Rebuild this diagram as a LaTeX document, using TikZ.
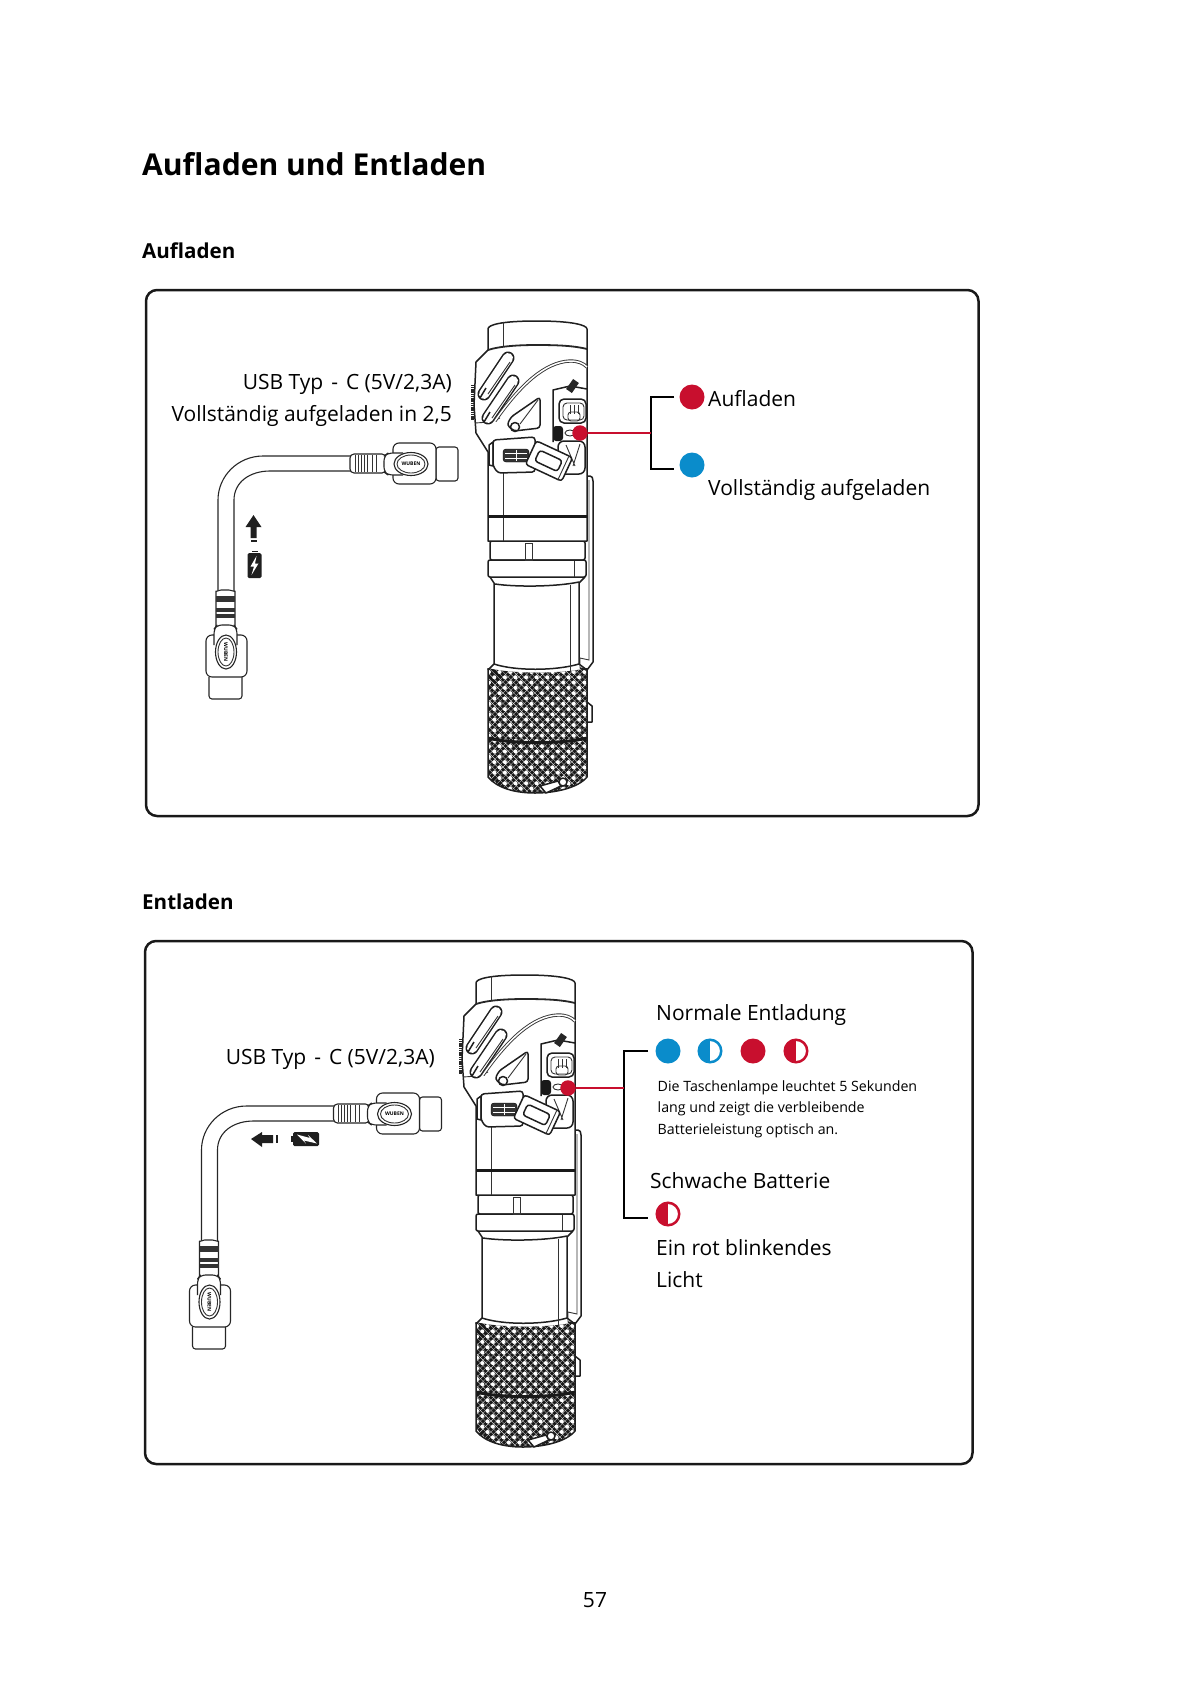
\documentclass[tikz,border=0pt]{standalone}
\usepackage{fontspec}
\setmainfont{Open Sans}
\usetikzlibrary{positioning, shapes.geometric}
\definecolor{ledred}{HTML}{C80F2E}
\definecolor{ledblue}{HTML}{0A8CCB}

\tikzset{
  lampline/.style = {line width = 1.5pt, black!88, line join = round},
  lampthin/.style = {line width = 0.9pt, black!80},
  cableline/.style = {line width = 1.1pt, black!85, line join = round},
  frame/.style = {line width = 2.5pt, rounded corners = 11pt, black!90},
  bracket/.style = {line width = 2.4pt, black},
  redline/.style = {line width = 2.4pt, ledred},
  txt/.style = {inner sep = 0pt, anchor = base west, font = \fontsize{21}{26}\selectfont},
  txtr/.style = {txt, anchor = base east},
  small/.style = {txt, font = \fontsize{14.2}{20}\selectfont},
  head/.style = {inner sep = 0pt, anchor = base west, font = \fontsize{20.6}{26}\selectfont\bfseries},
  led/.style = {circle, inner sep = 0pt, minimum size = 25pt, fill = #1},
  pointdot/.style = {led = ledred, minimum size = 15.5pt},
  halfled/.style = {circle, inner sep = 0pt, minimum size = 22.5pt, draw = #1, line width = 2.5pt, fill = white,
    path picture = {\fill[#1] (path picture bounding box.south west) rectangle (path picture bounding box.north);}},
  logo/.style = {inner sep = 0pt, font = \fontsize{5}{5}\selectfont\bfseries}
}

% the lamp, in the coordinates of the upper panel
\newcommand{\lampdraw}{
  % knurled foot
  \begin{scope}
    \clip (488,668) .. controls (510,674) and (565,674) .. (587,668) -- (587,777)
      .. controls (578,788) and (555,793) .. (535,793) .. controls (515,793) and (497,788) .. (488,777) -- cycle;
    \fill[black!90] (480,660) rectangle (595,800);
    \foreach \k in {0,...,56} {
      \draw[white, line width = 0.22pt] ({380+\k*2.65*2},660) -- ({520+\k*2.65*2},800);
      \draw[white, line width = 0.22pt] ({380+\k*2.65*2},800) -- ({520+\k*2.65*2},660);
    }
    \foreach \i in {0,...,9}
      \foreach \j in {0,...,25}
        \fill[white] ({489+\i*10.6+mod(\j,2)*5.3},{672+\j*5.3}) circle (2);
    \draw[line width = 3pt, black!90] (488,738) .. controls (510,744) and (565,744) .. (587,738);
  \end{scope}
  \draw[lampline] (488,668) -- (488,777) .. controls (497,788) and (515,793) .. (535,793)
    .. controls (555,793) and (578,788) .. (587,777) -- (587,668);
  \draw[lampline, fill = white] (540,786) -- (558,781) -- (561,786) -- (546,793) -- cycle;
  \draw[lampline, fill = white] (563,782) circle (4);
  \draw[lampline] (587,702) -- (592,706) -- (592,722) -- (587,722);
  % tube and rings
  \draw[lampline] (488,670) -- (494,664) -- (494,583) -- (490,577);
  \draw[lampline] (587,670) -- (579,664) -- (579,583) -- (585,577);
  \draw[lampline] (494,664) .. controls (515,671) and (555,671) .. (579,664);
  \draw[lampline] (495,584) .. controls (515,587) and (555,587) .. (579,582);
  \draw[lampthin] (570,585) -- (570,672);
  \draw[lampline, rounded corners = 2pt] (488,560) rectangle (586,577);
  \draw[lampthin] (574,560) -- (574,577);
  \draw[lampline, rounded corners = 2pt] (490,541) rectangle (585,560);
  \draw[lampthin] (525,543) rectangle (532,560);
  % pocket clip
  \draw[lampline] (587,476) -- (590,476) .. controls (592,476) and (593,478) .. (593,481) -- (593,662) -- (587,670) -- (580,668);
  \draw[lampthin] (589,480) -- (589,660) -- (580,658) -- (580,668);
  % head
  \draw[lampline, fill = white] (488,350) -- (488,329) .. controls (488,325) and (500,321) .. (537,321)
    .. controls (572,321) and (587,325) .. (587,329) -- (587,541) -- (488,541) -- (488,452)
    -- (476,433) -- (474,405) -- (476,362) -- cycle;
  \draw[line width = 1.8pt, black!85] (488,350) .. controls (500,346) and (520,345) .. (537,345) .. controls (560,345) and (575,346) .. (587,349);
  \draw[lampthin] (503,322) -- (503,346) (503,472) -- (503,541);
  \draw[lampthin] (475,423) -- (490,422) -- (500,418);
  \draw[line width = 3pt, black!90] (488,516) -- (587,516);
  \draw[line width = 3pt, black!85, dash pattern = on 1.2pt off 0.6pt] (472,385) -- (472,420);
  % grip ribs
  \draw[lampline, double = white, double distance = 10pt, line cap = round] (484,394) -- (508,358);
  \draw[lampline, double = white, double distance = 10pt, line cap = round] (488,418) -- (513,381);
  \draw[lampthin] (488,394) -- (510,362) (492,418) -- (515,385);
  \draw[lampline] (486,388) -- (480,398) (490,412) -- (484,422);
  \draw[lampthin, double = white, double distance = 1.5pt] (495,421) .. controls (520,385) and (545,362) .. (570,361) .. controls (578,361) and (583,363) .. (587,367);
  \draw[lampline, rounded corners = 3pt] (540,397) -- (540,428) -- (514,431) -- (507,425) -- (511,417) -- cycle;
  \draw[lampthin] (538,400) -- (520,424);
  \draw[lampline] (515,427) circle (4.5);
  % port cover
  \draw[lampline] (587,389) -- (570,386) -- (553,390) -- (553,442);
  \draw[line width = 7pt, black!85] (569,391) -- (576,381);
  \draw[lampline, rounded corners = 5pt, fill = white] (559,399) rectangle (586,423);
  \draw[lampthin, rounded corners = 4pt] (563,403) rectangle (584,420);
  \draw[lampthin] (574,405) -- (574,414) (570,405) -- (570,414) (578,405) -- (578,414);
  \draw[lampthin, rounded corners = 3pt] (568,412) rectangle (580,421);
  \fill[black!90, rounded corners = 3pt] (553,426) rectangle (563,441);
  \draw[lampthin] (570,433) ellipse (5 and 3);
  \draw[lampline, rounded corners = 6pt] (558,441) rectangle (585,474);
  \draw[lampthin] (566,445) -- (575,466) (580,444) -- (573,466);
  % side clip and rubber flap
  \draw[lampline, fill = white] (489,445) -- (493,442) -- (493,466) -- (489,465) -- cycle;
  \draw[lampline, rounded corners = 3pt, fill = white] (493,440) -- (535,437) -- (535,472) -- (498,473) -- (493,466) -- cycle;
  \draw[rounded corners = 3pt, fill = black!80] (503,449) rectangle (529,462);
  \draw[white, line width = 0.7pt] (505,453) -- (527,453) (505,458) -- (527,458) (516,450) -- (516,461);
  \begin{scope}[shift = {(549,461)}, rotate = -25]
    \draw[lampline, rounded corners = 3pt, fill = white] (-20,-13) rectangle (20,13);
    \draw[lampline, rounded corners = 3pt] (-13,-6) rectangle (12,6);
    \draw[lampthin] (16,-13) -- (16,13);
  \end{scope}
}

% the cable; #1 starts the names of its logo nodes
\newcommand{\cabledraw}[1]{
  \draw[cableline] (352,456) -- (263,456) .. controls (238,456) and (218,476) .. (218,500) -- (218,592);
  \draw[cableline] (352,471) -- (270,471) .. controls (250,471) and (234,482) .. (234,500) -- (234,592);
  \draw[cableline, rounded corners = 4pt, fill = white] (350,454) rectangle (386,473);
  \foreach \x in {355,358,361,364,367,372,376} \draw[lampthin] (\x,455) -- (\x,472);
  \draw[cableline, rounded corners = 3pt] (436,447) rectangle (458,481);
  \draw[cableline, rounded corners = 6pt, fill = white] (393,443) rectangle (436,484);
  \draw[cableline, rounded corners = 5pt, fill = white] (403,453) -- (388,453) -- (384,456) -- (384,472) -- (388,475) -- (403,475);
  \draw[cableline, fill = white] (411,464) ellipse (17 and 11.5);
  \draw[lampthin] (411,464) ellipse (14 and 9);
  \node[logo] (#1logoa) at (411,464) {WUBEN};
  \draw[cableline, rounded corners = 4pt, fill = white] (216,627) -- (216,595) .. controls (216,592) and (220,590) .. (225,590) .. controls (231,590) and (235,592) .. (235,595) -- (235,627);
  \foreach \y in {597,599,601,609,611,615,617} \draw[line width = 1.2pt, black!80] (216,\y) -- (235,\y);
  \draw[cableline, rounded corners = 3pt] (209,677) -- (209,699) -- (242,699) -- (242,677);
  \draw[cableline, rounded corners = 6pt, fill = white] (206,635) rectangle (247,677);
  \draw[cableline, rounded corners = 5pt, fill = white] (214,645) -- (214,629) -- (217,625) -- (234,625) -- (237,629) -- (237,645);
  \draw[cableline, fill = white] (226,652) ellipse (10.5 and 17);
  \draw[lampthin] (226,652) ellipse (8 and 14);
  \node[logo, rotate = -90] (#1logob) at (226,652) {WUBEN};
}

\begin{document}
\begin{tikzpicture}[x = 1pt, y = -1pt]
  \useasboundingbox (0,0) rectangle (1191,1684);

  \node[inner sep = 0pt, anchor = base west, font = \fontsize{30.1}{40}\selectfont\bfseries] (title) at (142,175.5) {Aufladen und Entladen};
  \node[head] (headA) at (142,258) {Aufladen};
  \node[head] (headB) at (142,909) {Entladen};
  \node[txt, anchor = base] (pageno) at (595,1607) {57};

  % upper panel
  \draw[frame] (146,290) rectangle (978.5,816);
  \lampdraw
  \cabledraw{a}
  \node[txtr] (usbA) at (452,389) {USB Typ\hspace{2.5pt} - \hspace{2.5pt}C (5V/2,3A)};
  \node[txtr] (timeA) at (452,421.5) {Vollständig aufgeladen in 2,5};
  \fill[black!88] (253.5,515) -- (261.5,527) -- (256.5,527) -- (256.5,538) -- (250.5,538) -- (250.5,527) -- (245.5,527) -- cycle;
  \fill[black!88] (250.5,540) rectangle (256.5,541.5);
  \fill[black!88, rounded corners = 1.5pt] (247.5,553) rectangle (261.5,578);
  \fill[black!88] (251.5,551) rectangle (257.5,552);
  \fill[white] (256.5,556) -- (250.5,566.5) -- (254,566.5) -- (251.5,575) -- (258.5,563.5) -- (255,563.5) -- cycle;

  \node[pointdot] (chargeDot) at (580,433) {};
  \node[led = ledred] (ledRed) at (692,397) {};
  \node[led = ledblue] (ledBlue) at (692,465) {};
  \node[txt] (lblCharge) at (708,406) {Aufladen};
  \node[txt] (lblFull) at (708,495) {Vollständig aufgeladen};
  \coordinate (brA) at (674,397);
  \coordinate (brAc) at (651,397);
  \coordinate (brBc) at (651,469);
  \coordinate (brB) at (674,469);
  \coordinate (brMid) at (651,433);
  \draw[bracket] (brA) -- (brAc) -- (brBc) -- (brB);
  \draw[redline] (chargeDot) -- (brMid);

  % lower panel
  \draw[frame] (145,941) rectangle (972.5,1464);
  \begin{scope}[shift = {(-12,654)}]
    \lampdraw
  \end{scope}
  \begin{scope}[shift = {(-16.5,650)}]
    \cabledraw{b}
  \end{scope}
  \node[txtr] (usbB) at (435,1064) {USB Typ\hspace{2.5pt} - \hspace{2.5pt}C (5V/2,3A)};
  \fill[black!88] (251,1139) -- (262,1132) -- (262,1135) -- (273,1135) -- (273,1143) -- (262,1143) -- (262,1147) -- cycle;
  \fill[black!88] (276,1135) rectangle (278,1143);
  \fill[black!88, rounded corners = 1.5pt] (293,1132) rectangle (319,1146);
  \fill[black!88] (291,1136) rectangle (292.5,1142);
  \fill[white] (297,1134.5) -- (310,1138) -- (308,1135) -- (317,1143.5) -- (304,1140.5) -- (306,1143.5) -- cycle;

  \node[pointdot] (dischargeDot) at (568,1088) {};
  \node[txt] (lblNormal) at (656,1020) {Normale Entladung};
  \node[led = ledblue] (dotA) at (668,1051) {};
  \node[halfled = ledblue] (dotB) at (710,1051) {};
  \node[led = ledred] (dotC) at (753,1051) {};
  \node[halfled = ledred] (dotD) at (796,1051) {};
  \node[small] (noteA) at (657.5,1091) {Die Taschenlampe leuchtet 5 Sekunden};
  \node[small] (noteB) at (657.5,1112) {lang und zeigt die verbleibende};
  \node[small] (noteC) at (657.5,1134) {Batterieleistung optisch an.};
  \node[txt] (lblLow) at (650,1188) {Schwache Batterie};
  \node[halfled = ledred] (dotE) at (668,1214) {};
  \node[txt] (lblBlinkA) at (656,1255) {Ein rot blinkendes};
  \node[txt] (lblBlinkB) at (656,1287) {Licht};
  \coordinate (brC) at (648,1051);
  \coordinate (brCc) at (624,1051);
  \coordinate (brDc) at (624,1218);
  \coordinate (brD) at (648,1218);
  \coordinate (brMidB) at (624,1088);
  \draw[bracket] (brC) -- (brCc) -- (brDc) -- (brD);
  \draw[redline] (dischargeDot) -- (brMidB);
\end{tikzpicture}
\end{document}
